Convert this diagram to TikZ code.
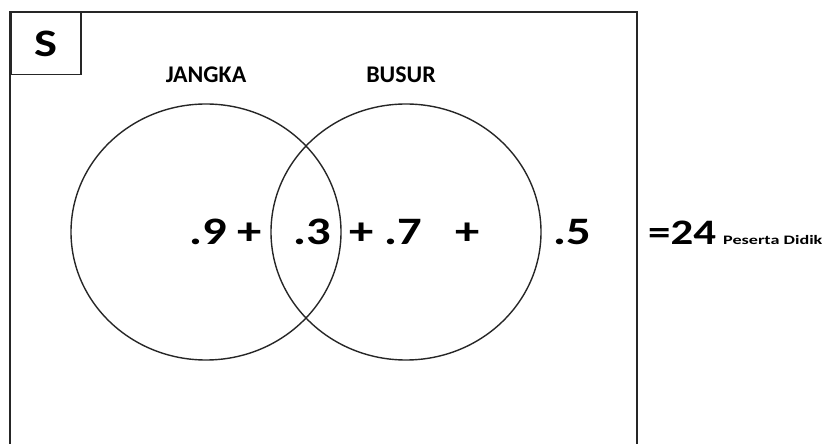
\documentclass[tikz,border=0pt]{standalone}
\usepackage{fontspec}
\usetikzlibrary{shapes.geometric}
\setmainfont{Carlito}
\newfontfamily\widefont[FakeStretch=1.25]{Carlito}
\newfontfamily\widerfont[FakeStretch=1.4]{Carlito}
\begin{document}
\begin{tikzpicture}[x=1bp,y=-1bp,
  frame/.style={line width=1.5bp,draw=black!85},
  setring/.style={line width=1.4bp,draw=black!85},
  num/.style={anchor=base west,inner sep=0pt,font=\widefont\bfseries\fontsize{39}{39}\selectfont},
  setlabel/.style={anchor=base,inner sep=0pt,font=\bfseries\fontsize{24}{24}\selectfont},
]
\useasboundingbox (0,0) rectangle (826,444);
\coordinate (bl) at (10,444);
\coordinate (tl) at (10,12);
\coordinate (tr) at (637,12);
\coordinate (br) at (637,444);
\draw[frame] (bl) -- (tl) -- (tr) -- (br);
\node[frame,draw,minimum width=70bp,minimum height=62bp,anchor=north west,inner sep=0pt,
  font=\widefont\bfseries\fontsize{39}{39}\selectfont] (S) at (10,12) {S};
\node[setring,draw,ellipse,minimum width=270bp,minimum height=256bp,inner sep=0pt] (A) at (206,232) {};
\node[setring,draw,ellipse,minimum width=270bp,minimum height=256bp,inner sep=0pt] (B) at (406,232) {};
\node[setlabel] (la) at (206,83) {JANGKA};
\node[setlabel] (lb) at (401,83) {BUSUR};
\node[num] (n9) at (189,245) {.9 +};
\node[num] (n3) at (293,245) {.3};
\node[num] (n7) at (349,245) {+ .7};
\node[num] (p2) at (455,245) {+};
\node[num] (n5) at (553,245) {.5};
\node[num,font=\widefont\bfseries\fontsize{36}{36}\selectfont] (tot) at (648,245) {=24};
\node[anchor=base west,inner sep=0pt,font=\widerfont\bfseries\fontsize{13}{13}\selectfont] (pd) at (723,245) {Peserta Didik};
\end{tikzpicture}
\end{document}
